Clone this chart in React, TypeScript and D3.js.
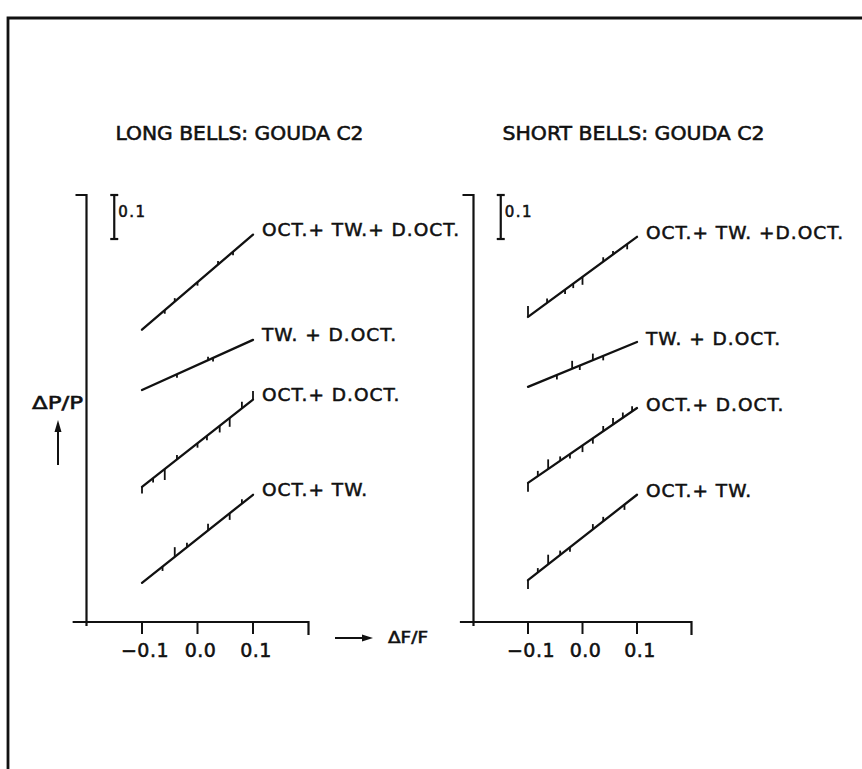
import React from "react";
import * as d3 from "d3";

// ---- data -------------------------------------------------------------
const panelTitles = ["LONG BELLS: GOUDA C2", "SHORT BELLS: GOUDA C2"];
const xTickValues = [-0.1, 0.0, 0.1];
const xTickLabels = ["\u22120.1", "0.0", "0.1"];

const longNames = ["OCT.+ TW.+ D.OCT.", "TW. + D.OCT.", "OCT.+ D.OCT.", "OCT.+ TW."];
const shortNames = ["OCT.+ TW. +D.OCT.", "TW. + D.OCT.", "OCT.+ D.OCT.", "OCT.+ TW."];

// fitted lines: ΔP/P (stacked with offsets) at ΔF/F = -0.1 and +0.1
const longStart = [0.664, 0.527, 0.307, 0.089];
const longEnd = [0.88, 0.641, 0.505, 0.289];
const shortStart = [0.693, 0.534, 0.316, 0.095];
const shortEnd = [0.875, 0.636, 0.486, 0.289];

// measured points: [ΔF/F, deviation of ΔP/P from the fitted line]
const longPoints: [number, number][][] = [
  [[-0.059, -0.008], [-0.041, 0.008], [0.0, -0.008], [0.037, 0.008], [0.064, -0.008]],
  [[-0.037, -0.008], [0.019, 0.008], [0.028, -0.008]],
  [[-0.1, -0.015], [-0.08, -0.01], [-0.059, -0.025], [-0.037, 0.01], [0.0, -0.01], [0.017, -0.01], [0.04, -0.015], [0.058, -0.02], [0.08, 0.015], [0.1, 0.02]],
  [[-0.063, -0.01], [-0.041, 0.022], [-0.019, 0.01], [0.019, 0.015], [0.058, -0.015], [0.08, 0.01]],
];
const shortPoints: [number, number][][] = [
  [[-0.1, 0.025], [-0.065, 0.01], [-0.032, -0.01], [-0.017, -0.01], [0.0, -0.018], [0.038, 0.01], [0.056, 0.008], [0.082, -0.012]],
  [[-0.047, -0.01], [-0.019, 0.018], [-0.005, -0.01], [0.019, 0.015], [0.038, -0.01]],
  [[-0.1, -0.02], [-0.082, 0.012], [-0.063, 0.022], [-0.041, 0.01], [-0.023, -0.01], [0.0, -0.015], [0.019, -0.012], [0.038, 0.012], [0.056, 0.015], [0.074, 0.012], [0.091, 0.012]],
  [[-0.1, -0.02], [-0.082, 0.01], [-0.063, 0.022], [-0.041, 0.01], [-0.023, -0.01], [0.019, 0.012], [0.038, 0.01], [0.077, -0.012]],
];

const xAxisExtent = [-0.225, 0.2];
const yAxisAt = -0.2;
const yTop = 0.97;
const scaleBarX = -0.15;
const scaleBarSize = 0.1;

// ---- layout -----------------------------------------------------------
const W = 862;
const H = 769;
const FONT = "'DejaVu Sans', Verdana, sans-serif";
const INK = "#111";
// plotter-style lettering is a little heavier than the regular face
const textWeight = { stroke: INK, strokeWidth: 0.55 };

const y = d3.scaleLinear().domain([0, yTop]).range([622, 195]);

type PanelProps = {
  title: string;
  names: string[];
  start: number[];
  end: number[];
  points: [number, number][][];
  range: [number, number];
  titleLen: number;
  labelDy: number;
};

function Panel({ title, names, start, end, points, range, titleLen, labelDy }: PanelProps) {
  const x = d3.scaleLinear().domain([-0.1, 0.1]).range(range);
  const line = d3
    .line<[number, number]>()
    .x((d) => x(d[0]))
    .y((d) => y(d[1]));
  const y0 = y(0);
  const axX = x(yAxisAt);
  return (
    <g>
      <text
        x={x(yAxisAt) + 29}
        y={140}
        fontFamily={FONT}
        fontSize={19}
        textLength={titleLen}
        lengthAdjust="spacingAndGlyphs"
        fill={INK}
        {...textWeight}
      >
        {title}
      </text>

      {/* y axis with top tick */}
      <path
        d={`M${axX - 11},${y(yTop)} L${axX},${y(yTop)} L${axX},${y0 + 4}`}
        fill="none"
        stroke={INK}
        strokeWidth={2.2}
      />
      {/* x axis */}
      <path
        d={`M${x(xAxisExtent[0])},${y0} L${x(xAxisExtent[1])},${y0} L${x(xAxisExtent[1])},${y0 + 13}`}
        fill="none"
        stroke={INK}
        strokeWidth={2.2}
      />
      {xTickValues.map((v, i) => (
        <g key={i}>
          <line x1={x(v)} x2={x(v)} y1={y0} y2={y0 + 12} stroke={INK} strokeWidth={2} />
          <text
            x={x(v) + 3}
            y={657}
            textAnchor="middle"
            fontFamily={FONT}
            fontSize={19}
            letterSpacing={0.5}
            fill={INK}
            {...textWeight}
          >
            {xTickLabels[i]}
          </text>
        </g>
      ))}

      {/* 0.1 scale bar */}
      <g stroke={INK} strokeWidth={2.2}>
        <line x1={x(scaleBarX)} x2={x(scaleBarX)} y1={y(yTop)} y2={y(yTop - scaleBarSize)} />
        <line x1={x(scaleBarX) - 4} x2={x(scaleBarX) + 4} y1={y(yTop)} y2={y(yTop)} />
        <line
          x1={x(scaleBarX) - 4}
          x2={x(scaleBarX) + 4}
          y1={y(yTop - scaleBarSize)}
          y2={y(yTop - scaleBarSize)}
        />
      </g>
      <text
        x={x(scaleBarX) + 4}
        y={217}
        fontFamily={FONT}
        fontSize={15}
        letterSpacing={1.5}
        fill={INK}
        {...textWeight}
      >
        0.1
      </text>

      {/* fitted lines, measured points and labels */}
      {names.map((name, i) => {
        const slope = (end[i] - start[i]) / 0.2;
        const fit = (v: number) => start[i] + slope * (v + 0.1);
        return (
          <g key={name + i}>
            <path
              d={line([
                [-0.1, start[i]],
                [0.1, end[i]],
              ]) || ""}
              fill="none"
              stroke={INK}
              strokeWidth={2.3}
              strokeLinecap="round"
            />
            {points[i].map((p, j) => (
              <line
                key={j}
                x1={x(p[0])}
                x2={x(p[0])}
                y1={y(fit(p[0]))}
                y2={y(fit(p[0]) + p[1])}
                stroke={INK}
                strokeWidth={1.8}
              />
            ))}
            <text
              x={x(0.1) + 9}
              y={y(end[i]) + labelDy}
              fontFamily={FONT}
              fontSize={18.5}
              letterSpacing={1}
              fill={INK}
              {...textWeight}
            >
              {name}
            </text>
          </g>
        );
      })}
    </g>
  );
}

export default function App() {
  return (
    <svg
      width={W}
      height={H}
      viewBox={`0 0 ${W} ${H}`}
      style={{ position: "absolute", left: 0, top: 0, background: "#fff" }}
    >
      <rect x={0} y={0} width={W} height={H} fill="#fff" />
      {/* frame */}
      <path d={`M8,${H} L8,18 L${W},18`} fill="none" stroke={INK} strokeWidth={2.8} />

      <Panel
        title={panelTitles[0]}
        names={longNames}
        start={longStart}
        end={longEnd}
        points={longPoints}
        range={[142, 253]}
        titleLen={248}
        labelDy={1.5}
      />
      <Panel
        title={panelTitles[1]}
        names={shortNames}
        start={shortStart}
        end={shortEnd}
        points={shortPoints}
        range={[528, 637]}
        titleLen={262}
        labelDy={2.5}
      />

      {/* ΔP/P label with upward arrow */}
      <text
        x={32}
        y={409}
        fontFamily={FONT}
        fontSize={17}
        textLength={51}
        lengthAdjust="spacingAndGlyphs"
        fill={INK}
        {...textWeight}
      >
        ΔP/P
      </text>
      <line x1={58} x2={58} y1={465} y2={430} stroke={INK} strokeWidth={2} />
      <path d="M58,420 L61.5,432 L54.5,432 Z" fill={INK} />

      {/* ΔF/F label with rightward arrow */}
      <line x1={335} x2={364} y1={638} y2={638} stroke={INK} strokeWidth={2} />
      <path d="M373,638 L362,634.5 L362,641.5 Z" fill={INK} />
      <text
        x={388}
        y={643}
        fontFamily={FONT}
        fontSize={15}
        textLength={40}
        lengthAdjust="spacingAndGlyphs"
        fill={INK}
        {...textWeight}
      >
        ΔF/F
      </text>
    </svg>
  );
}
